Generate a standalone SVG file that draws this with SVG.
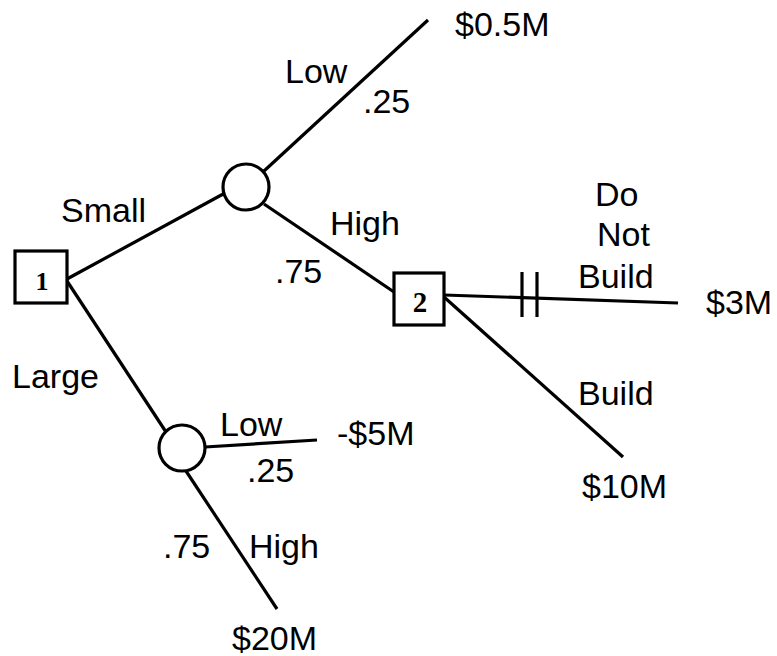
<svg xmlns="http://www.w3.org/2000/svg" width="777" height="656" viewBox="0 0 777 656">
<style>
.ln{stroke:#000;stroke-width:3.2;fill:none;stroke-linecap:butt}
.nd{stroke:#000;stroke-width:3.2;fill:#fff}
.t{font-family:"Liberation Sans",Arial,sans-serif;font-size:34px;fill:#000}
.n{font-family:"Liberation Serif","Times New Roman",serif;font-weight:bold;fill:#000;text-anchor:middle}
</style>
<rect width="777" height="656" fill="#fff"/>
<g id="connectors">
<line class="ln" x1="67" y1="279" x2="225" y2="193"/>
<line class="ln" x1="67" y1="281" x2="166" y2="432"/>
<line class="ln" x1="264" y1="171" x2="428" y2="20"/>
<line class="ln" x1="264" y1="204" x2="394" y2="292"/>
<line class="ln" x1="444" y1="295" x2="678" y2="303"/>
<line class="ln" x1="522" y1="272" x2="522" y2="317"/>
<line class="ln" x1="537" y1="272" x2="537" y2="317"/>
<line class="ln" x1="444" y1="297" x2="623" y2="457"/>
<line class="ln" x1="205" y1="447" x2="317" y2="440"/>
<line class="ln" x1="186" y1="471" x2="277" y2="609"/>
</g>
<g id="node1"><rect class="nd" x="15" y="251" width="52" height="52"/><text class="n" x="42" y="290" font-size="26">1</text></g>
<g id="chance1"><circle class="nd" cx="246" cy="187" r="23"/></g>
<g id="node2"><rect class="nd" x="394" y="273" width="50" height="52"/><text class="n" x="420" y="312" font-size="29">2</text></g>
<g id="chance2"><circle class="nd" cx="182" cy="448" r="23"/></g>
<g id="labels">
<text class="t" x="455" y="36">$0.5M</text>
<text class="t" x="285" y="83">Low</text>
<text class="t" x="363" y="113">.25</text>
<text class="t" x="61" y="222">Small</text>
<text class="t" x="330" y="235">High</text>
<text class="t" x="275" y="283">.75</text>
<text class="t" x="595" y="206">Do</text>
<text class="t" x="597" y="246">Not</text>
<text class="t" x="578" y="288">Build</text>
<text class="t" x="706" y="314">$3M</text>
<text class="t" x="578" y="405">Build</text>
<text class="t" x="582" y="498">$10M</text>
<text class="t" x="12" y="388">Large</text>
<text class="t" x="220" y="436">Low</text>
<text class="t" x="337" y="445">-$5M</text>
<text class="t" x="247" y="482">.25</text>
<text class="t" x="163" y="558">.75</text>
<text class="t" x="249" y="558">High</text>
<text class="t" x="232" y="650">$20M</text>
</g>
</svg>
